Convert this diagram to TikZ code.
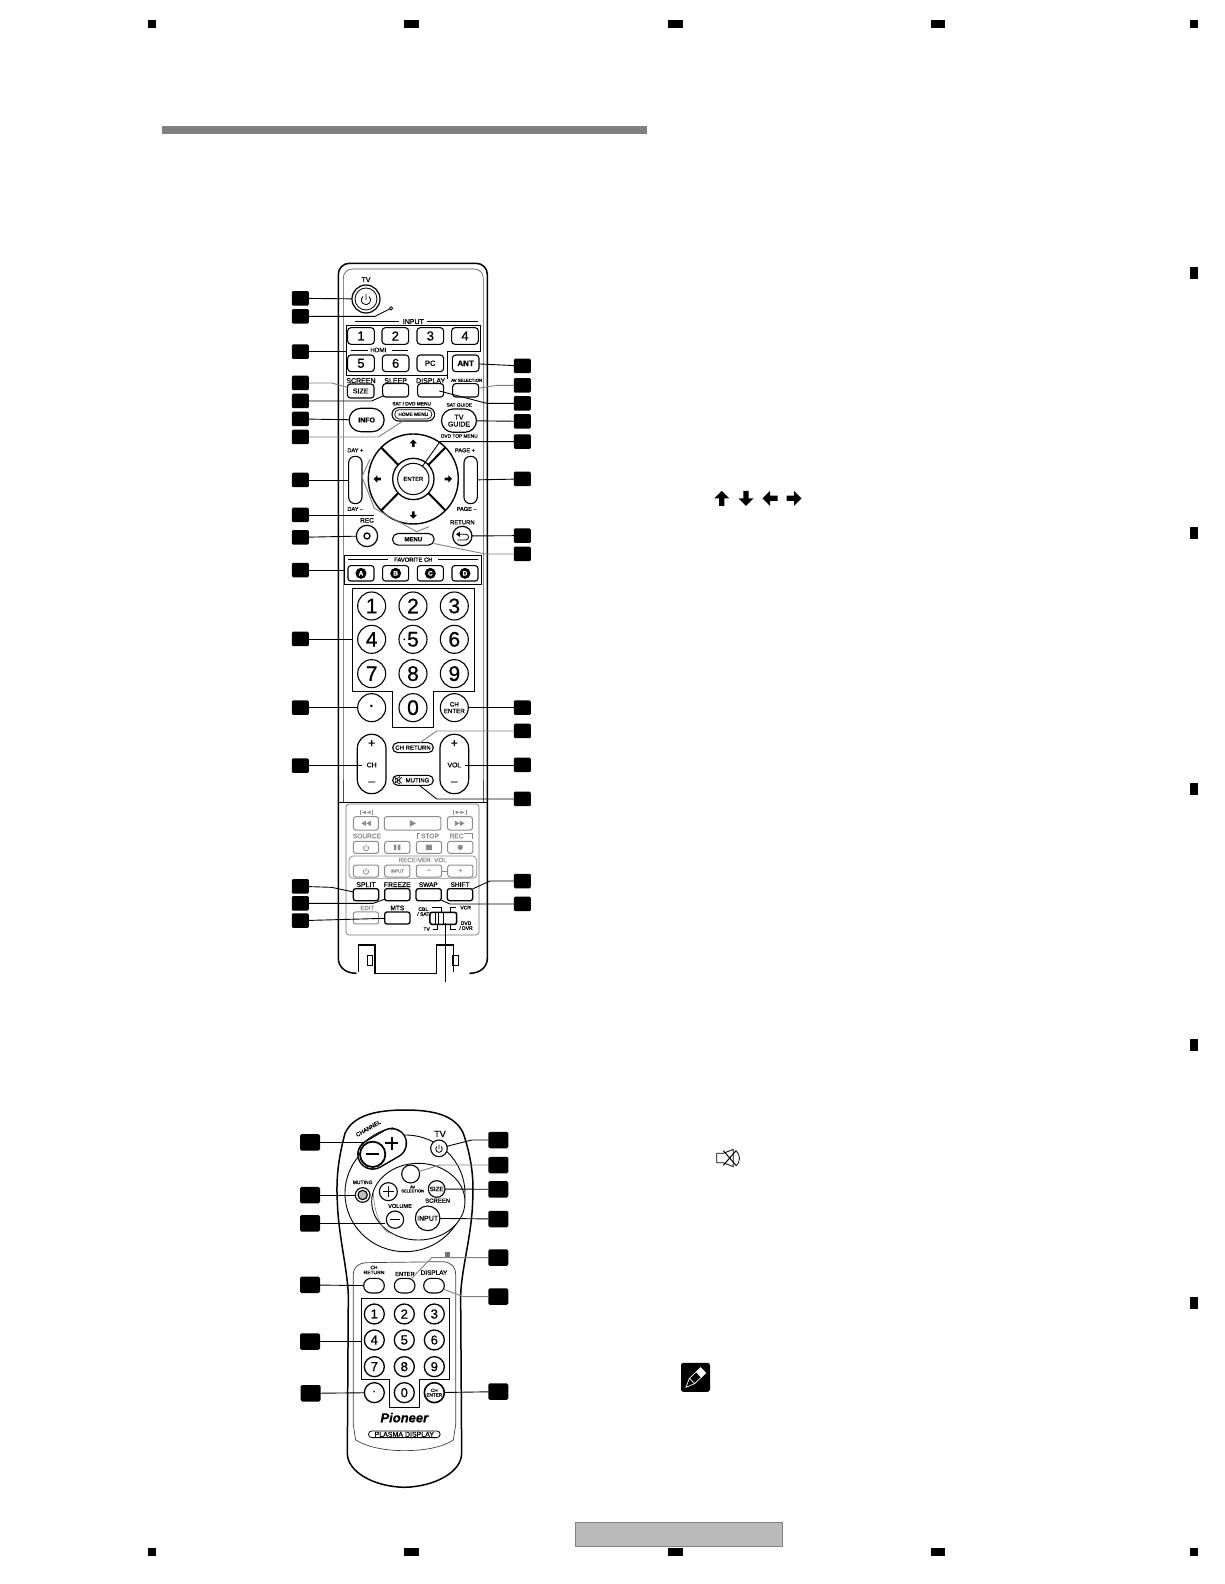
\documentclass[tikz,border=0pt]{standalone}
\usetikzlibrary{shapes.geometric,arrows}
\usepackage{fontspec}
\setmainfont{Liberation Sans}[FakeBold=0.8]
\newcommand{\fsz}[1]{\fontsize{#1}{#1}\selectfont}
\colorlet{lg}{black!45}
\colorlet{lc}{black!50}
\tikzset{
 rb/.style n args={3}{rectangle,draw,fill=white,line width=1pt,inner sep=0,outer sep=0,rounded corners=#3*0.3333pt,minimum width=#1*0.3333pt,minimum height=#2*0.3333pt},
 cr/.style={circle,draw,fill=white,line width=1pt,inner sep=0,outer sep=0,minimum size=#1*0.6667pt},
 txt/.style={inner sep=0,outer sep=0,align=center},
 tagA/.style={fill=black,rounded corners=1.2pt,inner sep=0,outer sep=0,minimum width=17pt,minimum height=14.5pt},
 tagB/.style={fill=black,rounded corners=1.5pt,inner sep=0,outer sep=0,minimum width=20pt,minimum height=16.5pt},
 conn/.style={line width=0.9pt,black},
 connl/.style={line width=0.9pt,lc},
 frame/.style={line width=0.9pt,black},
 mk/.style={fill=black,draw=none}
}
\newcommand{\lbl}[5]{\node[txt,font=\fsz{#4}] (#1) at (#2,#3) {#5};}
\newcommand{\glbl}[5]{\node[txt,text=lg,font=\fsz{#4}] (#1) at (#2,#3) {#5};}
\newcommand{\blockarrow}[4]{\fill[shift={(#1,#2)},rotate=#3,scale=#4] (0,-1)--(1,0)--(.35,0)--(.35,1)--(-.35,1)--(-.35,0)--(-1,0)--cycle;}
\newcommand{\powersym}[4][black]{\draw[#1,line width=.8pt,shift={(#2,#3)}] (-50:#4) arc (-50:230:#4) (0,-#4*1.35)--(0,0);}
\begin{document}
\begin{tikzpicture}[x=1pt,y=-1pt]
\useasboundingbox (0,0) rectangle (1224,1584);
\fill[white] (0,0) rectangle (1224,1584);
% page marks
\foreach \a/\b in {148/156,404/418.5,667.5/682.5,931/945,1189.5/1197.5}{
 \fill[mk] (\a,20) rectangle (\b,28);
 \fill[mk] (\a,1548) rectangle (\b,1556);
}
\foreach \a/\b in {266.5/278.5,527/539,782.5/794.5,1039/1051,1296.5/1308.5}{
 \fill[mk] (1189.5,\a) rectangle (1197.5,\b);
}
\fill[black!50] (162,126) rectangle (647,134);
\draw[black!50,fill=black!27,line width=.8pt] (575,1522.5) rectangle (782.5,1546);
% inline icons
\blockarrow{721.7}{498.3}{0}{7.5}
\blockarrow{746}{498.3}{180}{7.5}
\blockarrow{770}{498.3}{90}{7.5}
\blockarrow{794}{498.3}{-90}{7.5}
\begin{scope}[shift={(660,1130)},x=0.3333pt,y=-0.3333pt]
 \draw[line width=.8pt] (170,70)--(190,70)--(220,58)--(220,110)--(190,98)--(170,98)--cycle;
 \draw[line width=.8pt] (228,62) .. controls (242,75) and (242,95) .. (228,108);
 \draw[line width=1pt] (190,62)--(228,106) (228,62)--(190,106);
 \node[fill=black,rounded corners=2.5pt,inner sep=0,outer sep=0,minimum width=29pt,minimum height=29pt] (noteicon) at (106.5,742) {};
 \draw[white,line width=.7pt] (78,772)--(88,745)--(122,713)--(137,729)--(104,761)--cycle (88,745)--(104,761);
 \fill[white] (108,726)--(122,713)--(137,729)--(123,743)--cycle;
\end{scope}
%%%%%%%%% big remote body
\begin{scope}[shift={(280,255)},x=0.3333pt,y=-0.3333pt]
 \draw[line width=1.5pt,rounded corners=11pt] (175,1900) -- (175,25) -- (622,25) -- (622,1900);
 \draw[black!70,line width=.6pt,rounded corners=9pt] (190,1900) -- (190,42) -- (610,42) -- (610,1900);
\end{scope}
\fill[white] (330,780) rectangle (500,1000);
\begin{scope}[shift={(280,790)},x=0.3333pt,y=-0.3333pt]
 \draw[line width=1.5pt] (175,-30) -- (175,505) .. controls (175,530) and (195,550) .. (230,550);
 \draw[line width=1.5pt] (622,-30) -- (622,505) .. controls (622,530) and (602,550) .. (568,550);
 \draw[black!70,line width=.6pt] (190,-30) -- (190,40);
 \draw[black!70,line width=.6pt] (610,-30) -- (610,40);
 \draw[line width=1.6pt] (175,38)--(622,38);
 \draw[line width=1.5pt] (235,547)--(235,465)--(285,465)--(285,550)--(470,550)--(470,465)--(520,465)--(520,547);
 \draw[line width=.8pt] (262,497) rectangle (278,525) (518,497) rectangle (534,525);
 \draw[black!55,line width=.7pt,rounded corners=3pt] (198,42) rectangle (597,435);
\end{scope}
%%%%%%%%% zoom 1 upper part
\begin{scope}[shift={(280,255)},x=0.3333pt,y=-0.3333pt]
 \lbl{tTV}{258}{74}{7}{TV}
 \node[cr=42,line width=1.2pt] (pw) at (258,132) {};
 \node[cr=33,line width=.8pt] at (258,132) (pwi) {};
 \powersym{258}{135}{14}
 \node[cr=5,line width=.8pt] (led) at (333,160) {};
 \lbl{tINPUT}{400}{200}{7}{INPUT}
 \draw[frame] (225,200)--(358,200) (440,200)--(595,200);
 \node[coordinate] (boxL) at (198,290) {};
 \draw[frame] (198,212)--(602,212)--(602,288)--(503,288)--(503,362)--(198,362)--cycle;
 \draw[frame] (503,288)--(503,372);
 \foreach \n/\x/\t in {a1/243/1,a2/346/2,a3/451/3,a4/555/4}{
  \node[rb={80}{50}{10},line width=1.1pt,font=\fsz{13}] (\n) at (\x,243) {\t};}
 \node[rb={80}{50}{10},line width=1.1pt,font=\fsz{13}] (a5) at (243,325) {5};
 \node[rb={80}{50}{10},line width=1.1pt,font=\fsz{13}] (a6) at (347,325) {6};
 \node[rb={80}{50}{10},line width=1.1pt,font=\fsz{7.5}] (aPC) at (451,325) {PC};
 \node[rb={80}{50}{10},line width=1.1pt,font=\fsz{8}\bfseries] (aANT) at (557,325) {ANT};
 \lbl{tHDMI}{295}{285}{6.3}{HDMI}
 \draw[frame] (212,285)--(265,285) (335,285)--(385,285);
 \lbl{tSCREEN}{243}{377}{7}{SCREEN}
 \lbl{tSLEEP}{347}{377}{7}{SLEEP}
 \lbl{tDISPLAY}{452}{377}{7}{DISPLAY}
 \lbl{tAV}{560}{376}{4.3}{AV SELECTION}
 \node[rb={80}{42}{9},line width=1.1pt,font=\fsz{7}] (bSIZE) at (242,408) {SIZE};
 \node[rb={78}{40}{9},line width=1.1pt] (bSLEEP) at (347,406) {};
 \node[rb={78}{40}{9},line width=1.1pt] (bDISP) at (452,406) {};
 \node[rb={78}{40}{9},line width=1.1pt] (bAV) at (557,406) {};
 \node[rb={105}{70}{35},line width=1.2pt,font=\fsz{7}\bfseries] (bINFO) at (260,495) {INFO};
 \lbl{tSAT}{395}{446}{4.8}{SAT / DVD MENU}
 \node[rb={128}{40}{20},line width=1.1pt] (bHOME) at (400,478) {};
 \node[rb={112}{28}{14},line width=.7pt,font=\fsz{4.8}] (bHOMEi) at (400,478) {HOME MENU};
 \lbl{tSG}{538}{450}{4.8}{SAT GUIDE}
 \node[rb={105}{70}{35},line width=1.2pt,font=\fsz{7},align=center] (bTVG) at (537,497) {TV\\GUIDE};
 \lbl{tDT}{538}{543}{4.8}{DVD TOP MENU}
 % d-pad
 \node[cr=135,line width=1.4pt] (dpad) at (400,672) {};
 \draw[line width=2pt] (304,578)--(355,630) (496,578)--(445,630) (304,766)--(355,714) (496,766)--(445,714);
 \node[cr=62,line width=1.3pt] (dO) at (400,672) {};
 \node[cr=47,line width=1pt,font=\fsz{5.8}] (dENTER) at (400,672) {ENTER};
 \blockarrow{400}{565}{0}{11}
 \blockarrow{400}{780}{180}{11}
 \blockarrow{292}{672}{90}{11}
 \blockarrow{505}{672}{-90}{11}
 \node[rb={40}{142}{19},line width=1.1pt] (bDAY) at (226,675) {};
 \lbl{tDAYp}{226}{586}{5.6}{DAY +}
 \lbl{tDAYm}{226}{762}{5.6}{DAY –}
 \node[rb={40}{142}{19},line width=1.1pt] (bPAGE) at (572,675) {};
 \lbl{tPGp}{555}{586}{5.6}{PAGE +}
 \lbl{tPGm}{560}{762}{5.6}{PAGE –}
 \lbl{tREC}{261}{796}{6.5}{REC}
 \node[cr=32,line width=1.2pt] (bREC) at (261,843) {};
 \node[cr=9,line width=1.3pt] (bRECi) at (261,843) {};
 \lbl{tRET}{547}{802}{5.9}{RETURN}
 \node[cr=29,line width=1.2pt] (bRET) at (547,843) {};
 \draw[line width=.8pt] (532,838) -- (558,838) .. controls (568,838) and (568,855) .. (558,855) -- (532,855);
 \fill (528,838)--(540,830)--(540,846)--cycle;
 \node[rb={125}{35}{17},line width=1.1pt,font=\fsz{6}\bfseries] (bMENU) at (400,853) {MENU};
 % tags
 \foreach \n/\y in {L1/130,L2/184,L3/290,L4/384,L5/438,L6/492,L7/546,L8/675,L9/780,L10/847}{
  \node[tagA] (\n) at (61,\y) {};}
 \foreach \n/\y in {R1/333,R2/391,R3/445,R4/499,R5/560,R6/672,R7/842,R8/897}{
  \node[tagA] (\n) at (727,\y) {};}
 \draw[conn] (L1) -- (pw);
 \draw[conn] (L2) -- (285,184) -- (led);
 \draw[conn] (L3) -- (boxL);
 \draw[connl] (L4) -- (155,384) -- (bSIZE);
 \draw[conn] (L5) -- (275,438) -- (bSLEEP);
 \draw[conn] (L6) -- (bINFO);
 \draw[connl] (L7) -- (295,546) -- (bHOME);
 \draw[conn] (L8) -- (bDAY);
 \draw[conn] (L9) -- (283,780);
 \draw[connl] (270,612) -- (246,665) -- (283,760) -- (410,830) -- (447,815);
 \draw[conn] (L10) -- (bREC);
 \draw[conn] (R1) -- (aANT);
 \draw[connl] (R2) -- (650,391) -- (bAV);
 \draw[conn] (R3) -- (620,445) -- (478,408);
 \draw[conn] (R4) -- (bTVG);
 \draw[conn] (R5) -- (480,560) -- (dENTER);
 \draw[conn] (R6) -- (bPAGE);
 \draw[conn] (R7) -- (bRET);
 \draw[connl] (R8) -- (615,897) -- (bMENU);
\end{scope}
%%%%%%%%% zoom 2
\begin{scope}[shift={(280,540)},x=0.3333pt,y=-0.3333pt]
 \draw[frame] (193,45) rectangle (605,133);
 \coordinate (favB) at (193,90);
 \lbl{tFAV}{400}{59}{5.8}{FAVORITE CH}
 \draw[frame] (205,59)--(325,59) (475,59)--(593,59);
 \foreach \n/\x/\t in {fA/243/A,fB/347/B,fC/451/C,fD/555/D}{
  \node[rb={78}{46}{8},line width=1.1pt] (\n) at (\x,100) {};
  \node[circle,fill=black,inner sep=0,minimum size=11pt,text=white,font=\fsz{6.5}\bfseries] (\n c) at (\x,100) {\t};}
 \draw[frame] (217,145)--(583,145)--(583,453)--(460,453)--(460,562)--(338,562)--(338,453)--(217,453)--cycle;
 \coordinate (numB) at (217,297);
 \foreach \n/\x/\y/\t in {k1/275/198/1,k2/399/198/2,k3/523/198/3,k4/275/298/4,k5/399/298/5,k6/523/298/6,k7/275/401/7,k8/399/401/8,k9/523/401/9,k0/399/503/0}{
  \node[cr=42,line width=1.1pt,font=\fsz{21}] (\n) at (\x,\y) {\t};}
 \fill (373,298) circle (3);
 \node[cr=42,line width=1.1pt,font=\fsz{13}\bfseries] (kdot) at (275,503) {·};
 \node[cr=42,line width=1.1pt,font=\fsz{6.2},align=center] (kCHE) at (523,503) {CH\\[.5pt]ENTER};
 \node[rb={86}{178}{42},line width=1.2pt] (bCH) at (275,672) {};
 \lbl{tCHp}{275}{611}{12}{+}
 \lbl{tCHm}{275}{730}{12}{–}
 \lbl{tCH}{275}{675}{6.8}{CH}
 \node[rb={86}{178}{42},line width=1.2pt] (bVOL) at (523,672) {};
 \lbl{tVOp}{523}{611}{12}{+}
 \lbl{tVOm}{523}{730}{12}{–}
 \lbl{tVOL}{523}{675}{6.8}{VOL}
 \node[rb={122}{30}{15},line width=1.1pt,font=\fsz{6}] (bCHR) at (399,623) {CH RETURN};
 \node[rb={122}{30}{15},line width=1.1pt,font=\fsz{6}] (bMUT) at (399,721) {\hspace{9pt}MUTING};
 \coordinate (chP) at (247,677);
 \coordinate (volP) at (555,675);
 \foreach \n/\y in {L11/90,L12/297,L13/503,L14/677}{
  \node[tagA] (\n) at (61,\y) {};}
 \foreach \n/\y in {R9/503,R10/573,R11/675,R12/777}{
  \node[tagA] (\n) at (727,\y) {};}
 \draw[conn] (L11) -- (favB);
 \draw[conn] (L12) -- (numB);
 \draw[conn] (L13) -- (kdot);
 \draw[conn] (L14) -- (chP);
 \draw[conn] (R9) -- (kCHE);
 \draw[connl] (R10) -- (470,573) -- (bCHR);
 \draw[conn] (R11) -- (volP);
 \draw[conn] (R12) -- (470,777) -- (bMUT);
 % mute glyph
 \draw[line width=.5pt] (346,715) rectangle (352,727) (352,715)--(360,709)--(360,733)--(352,727) (344,712)--(366,730) (366,712)--(344,730);
\end{scope}
%%%%%%%%% zoom 3
\begin{scope}[shift={(280,790)},x=0.3333pt,y=-0.3333pt]
 % gray area
 \tikzset{gb/.style n args={2}{rb={#1}{#2}{7},draw=lg,text=lg}}
 \draw[lg,line width=.8pt] (240,60)--(240,74) (276,60)--(276,74) (521,60)--(521,74) (558,60)--(558,74);
 \fill[lg] (258,62)--(246,67)--(258,72)--cycle (272,62)--(260,67)--(272,72)--cycle (527,62)--(539,67)--(527,72)--cycle (541,62)--(553,67)--(541,72)--cycle;
 \node[gb={75}{40}] (gRW) at (258,100) {};
 \node[gb={170}{40}] (gPL) at (398,100) {};
 \node[gb={75}{40}] (gFF) at (540,100) {};
 \fill[lg] (258,92)--(244,100)--(258,108)--cycle (273,92)--(259,100)--(273,108)--cycle (525,92)--(539,100)--(525,108)--cycle (540,92)--(554,100)--(540,108)--cycle (390,90)--(408,100)--(390,110)--cycle;
 \glbl{tSOU}{261}{138}{6.6}{SOURCE}
 \glbl{tSTO}{450}{138}{6.6}{STOP}
 \glbl{tRECg}{530}{138}{6.6}{REC}
 \draw[lg,line width=.6pt] (420,131)--(412,131)--(412,148) (552,131)--(577,131)--(577,148);
 \node[gb={76}{36}] (g1) at (258,172) {};
 \node[gb={76}{36}] (g2) at (352,172) {};
 \node[gb={76}{36}] (g3) at (447,172) {};
 \node[gb={76}{36}] (g4) at (541,172) {};
 \powersym[lg]{258}{174}{8}
 \fill[lg] (342,164) rectangle (349,180) (354,164) rectangle (361,180) (438,164) rectangle (456,180);
 \fill[lg] (541,172) circle (8);
 \draw[lg,line width=.7pt,rounded corners=4pt] (207,198) rectangle (590,265);
 \glbl{tRCV}{428}{210}{6.3}{RECEIVER\ \ VOL}
 \node[gb={76}{36}] (g5) at (258,243) {};
 \node[gb={76}{36},font=\fsz{4.5}] (g6) at (352,243) {INPUT};
 \node[gb={76}{36},font=\fsz{7}] (g7) at (447,243) {–};
 \node[gb={76}{36},font=\fsz{7}] (g8) at (541,243) {+};
 \powersym[lg]{258}{245}{8}
 \draw[lg,line width=.8pt] (g7) -- (g8);
 \glbl{tEDIT}{262}{354}{6}{EDIT}
 \node[gb={76}{36}] (gEDIT) at (258,384) {};
 \lbl{tSPLIT}{258}{284}{7}{SPLIT}
 \lbl{tFRZ}{352}{284}{6.8}{FREEZE}
 \lbl{tSWP}{445}{284}{6.5}{SWAP}
 \lbl{tSHF}{540}{284}{6.5}{SHIFT}
 \lbl{tMTS}{352}{354}{6.5}{MTS}
 \foreach \n/\x/\y in {bSPL/258/314,bFRZ/352/314,bSWP/446/314,bSHF/540/314,bMTS/352/384}{
  \node[rb={76}{36}{7},line width=1.3pt] (\n) at (\x,\y) {};}
 % slider
 \node[rb={80}{36}{6},line width=1.5pt] (sld) at (490,385) {};
 \draw[line width=.9pt] (465,367) rectangle (490,403) (475,367)--(475,403);
 \draw[line width=.7pt] (455,352)--(485,352)--(485,367) (510,367)--(510,352)--(528,352) (458,417)--(472,417)--(472,403) (510,403)--(510,417)--(528,417);
 \lbl{tCBL}{430}{365}{5}{CBL\\/ SAT}
 \lbl{tVCR}{557}{353}{5}{VCR}
 \lbl{tTVs}{440}{417}{5}{TV}
 \lbl{tDVD}{558}{407}{5}{DVD\\/ DVR}
 \coordinate (sldP) at (497,400);
 \coordinate (sldE) at (497,575);
 \foreach \n/\y in {L15/289,L16/340,L17/392}{
  \node[tagA] (\n) at (61,\y) {};}
 \foreach \n/\y in {R13/273,R14/342}{
  \node[tagA] (\n) at (727,\y) {};}
 \draw[conn] (L15) -- (155,292) -- (bSPL);
 \draw[conn] (L16) -- (280,340) -- (bFRZ);
 \draw[conn] (L17) -- (bMTS);
 \draw[conn] (R13) -- (630,273) -- (bSHF);
 \draw[conn] (R14) -- (510,342) -- (bSWP);
 \draw[conn] (sldP) -- (sldE);
\end{scope}
%%%%%%%%% small remote: zoom 4 coordinates; zoom 5 y + 555
\begin{scope}[shift={(290,1095)},x=0.3333pt,y=-0.3333pt]
 \draw[line width=1.5pt,fill=white] (345,45) .. controls (260,45) and (190,60) .. (165,115) .. controls (145,190) and (138,250) .. (142,320) .. controls (145,420) and (172,520) .. (175,600) -- (172,1075) .. controls (172,1130) and (250,1175) .. (343,1177) .. controls (436,1175) and (515,1130) .. (515,1075) -- (512,600) .. controls (515,520) and (545,420) .. (548,320) .. controls (552,250) and (545,190) .. (520,115) .. controls (495,60) and (430,45) .. (345,45) -- cycle;
 % lower frame
 \draw[black!75,line width=.7pt] (190,990) -- (190,540) .. controls (190,515) and (205,505) .. (230,503) -- (460,500) .. controls (485,503) and (497,515) .. (497,540) -- (497,990);
 \draw[black!75,line width=.7pt] (197,1035) .. controls (230,1055) and (280,1067) .. (343,1067) .. controls (410,1067) and (460,1055) .. (490,1035);
 \draw[black!75,line width=.7pt] (190,990) -- (197,1035) (497,990)--(490,1035);
 % dial
 \node[draw,ellipse,minimum width=120pt,minimum height=116.7pt,line width=.9pt,inner sep=0,outer sep=0,fill=white] (dialO) at (345,295) {};
 \node[draw,ellipse,minimum width=93.3pt,minimum height=76.7pt,line width=.9pt,inner sep=0,outer sep=0,fill=white] (dialI) at (385,320) {};
 % channel rocker
 \draw[line width=31pt,line cap=round] (248,178)--(305,145);
 \draw[line width=28pt,line cap=round,white] (248,178)--(305,145);
 \draw[line width=.7pt] (205,165) .. controls (225,130) and (270,105) .. (310,98);
 \node[cr=38,line width=1.8pt] (rMin) at (248,178) {};
 \draw[line width=2pt] (228,178)--(268,178);
 \draw[line width=2pt] (305,125)--(305,165) (285,145)--(325,145);
 \coordinate (rChan) at (222,142);
 \node[txt,rotate=30,font=\fsz{5.8}] (tCHAN) at (235,100) {CHANNEL};
 \lbl{tTVb}{450}{117}{9}{TV}
 \node[cr=25,line width=1.1pt] (sPW) at (447,160) {};
 \powersym{447}{162}{10}
 \node[cr=27,line width=1.1pt] (sAV) at (362,237) {};
 \lbl{tAVs}{368}{282}{4}{AV\\SELECTION}
 \lbl{tMUT}{218}{262}{5}{MUTING}
 \node[cr=22,line width=1.1pt] (sMUT) at (218,300) {};
 \node[cr=14,line width=1.1pt,fill=black!25] (sMUTi) at (218,300) {};
 \node[cr=27,line width=1.1pt] (sVp) at (295,290) {};
 \draw[line width=1.4pt] (295,274)--(295,306) (279,290)--(311,290);
 \lbl{tVOLs}{330}{333}{5.6}{VOLUME}
 \node[cr=26,line width=1.1pt] (sVm) at (315,374) {};
 \draw[line width=1.4pt] (300,374)--(330,374);
 \node[cr=25,line width=1.1pt,font=\fsz{6.3}] (sSIZE) at (440,282) {SIZE};
 \lbl{tSCR}{443}{317}{6}{SCREEN}
 \node[cr=37,line width=1.1pt,font=\fsz{7}] (sINP) at (413,370) {INPUT};
 \fill[black!55] (464,470) rectangle (480,485);
 \draw[connl,line width=.6pt] (250,290) .. controls (250,340) and (270,395) .. (290,410) -- (315,420);
 \lbl{tCHRs}{252}{525}{5}{CH\\RETURN}
 \lbl{tENT}{345}{537}{5.8}{ENTER}
 \lbl{tDSP}{432}{533}{6.4}{DISPLAY}
 \node[rb={62}{44}{22},line width=1.1pt] (sCHR) at (252,572) {};
 \node[rb={62}{44}{22},line width=1.1pt] (sENT) at (344,572) {};
 \node[rb={62}{44}{22},line width=1.1pt] (sDSP) at (432,572) {};
 % number box
 \draw[frame] (215,610)--(478,610)--(478,852)--(388,852)--(388,937)--(298,937)--(298,852)--(215,852)--cycle;
 \coordinate (sNumB) at (215,740);
 \foreach \n/\x/\y/\t in {n1/253/657/1,n2/343/657/2,n3/433/657/3,n4/253/735/4,n5/343/735/5,n6/433/735/6,n7/253/815/7,n8/343/815/8,n9/433/815/9,n0/343/893/0}{
  \node[cr=30,line width=1.3pt,font=\fsz{13}] (\n) at (\x,\y) {\t};}
 \node[cr=30,line width=1.3pt,font=\fsz{9}\bfseries] (ndot) at (253,893) {·};
 \node[cr=30,line width=1.6pt,font=\fsz{4.6},align=center] (nCHE) at (433,893) {CH\\ENTER};
 \node[txt,font=\fsz{13}\bfseries\itshape] (tPIO) at (343,968) {Pioneer};
 \node[rb={215}{20}{10},line width=.8pt,font=\fsz{7}] (tPLA) at (343,1018) {PLASMA DISPLAY};
 % tags
 \foreach \n/\y/\x in {M1/142/60,M2/300/60,M3/385/60,M4/570/60,M5/740/60,M6/895/62}{
  \node[tagB] (\n) at (\x,\y) {};}
 \foreach \n/\y in {N1/135,N2/210,N3/283,N4/372,N5/488,N6/605,N7/890}{
  \node[tagB] (\n) at (625,\y) {};}
 \draw[conn] (M1) -- (rChan);
 \draw[conn] (M2) -- (sMUT);
 \draw[conn] (M3) -- (285,385);
 \draw[conn] (M4) -- (sCHR);
 \draw[conn] (M5) -- (sNumB);
 \draw[conn] (M6) -- (ndot);
 \draw[conn] (N1) -- (545,135) -- (sPW);
 \draw[connl] (N2) -- (450,210) -- (sAV);
 \draw[conn] (N3) -- (sSIZE);
 \draw[conn] (N4) -- (sINP);
 \draw[connl] (N5) -- (425,488) -- (sENT);
 \draw[connl] (N6) -- (520,605) -- (sDSP);
 \draw[conn] (N7) -- (nCHE);
\end{scope}
\end{tikzpicture}
\end{document}
